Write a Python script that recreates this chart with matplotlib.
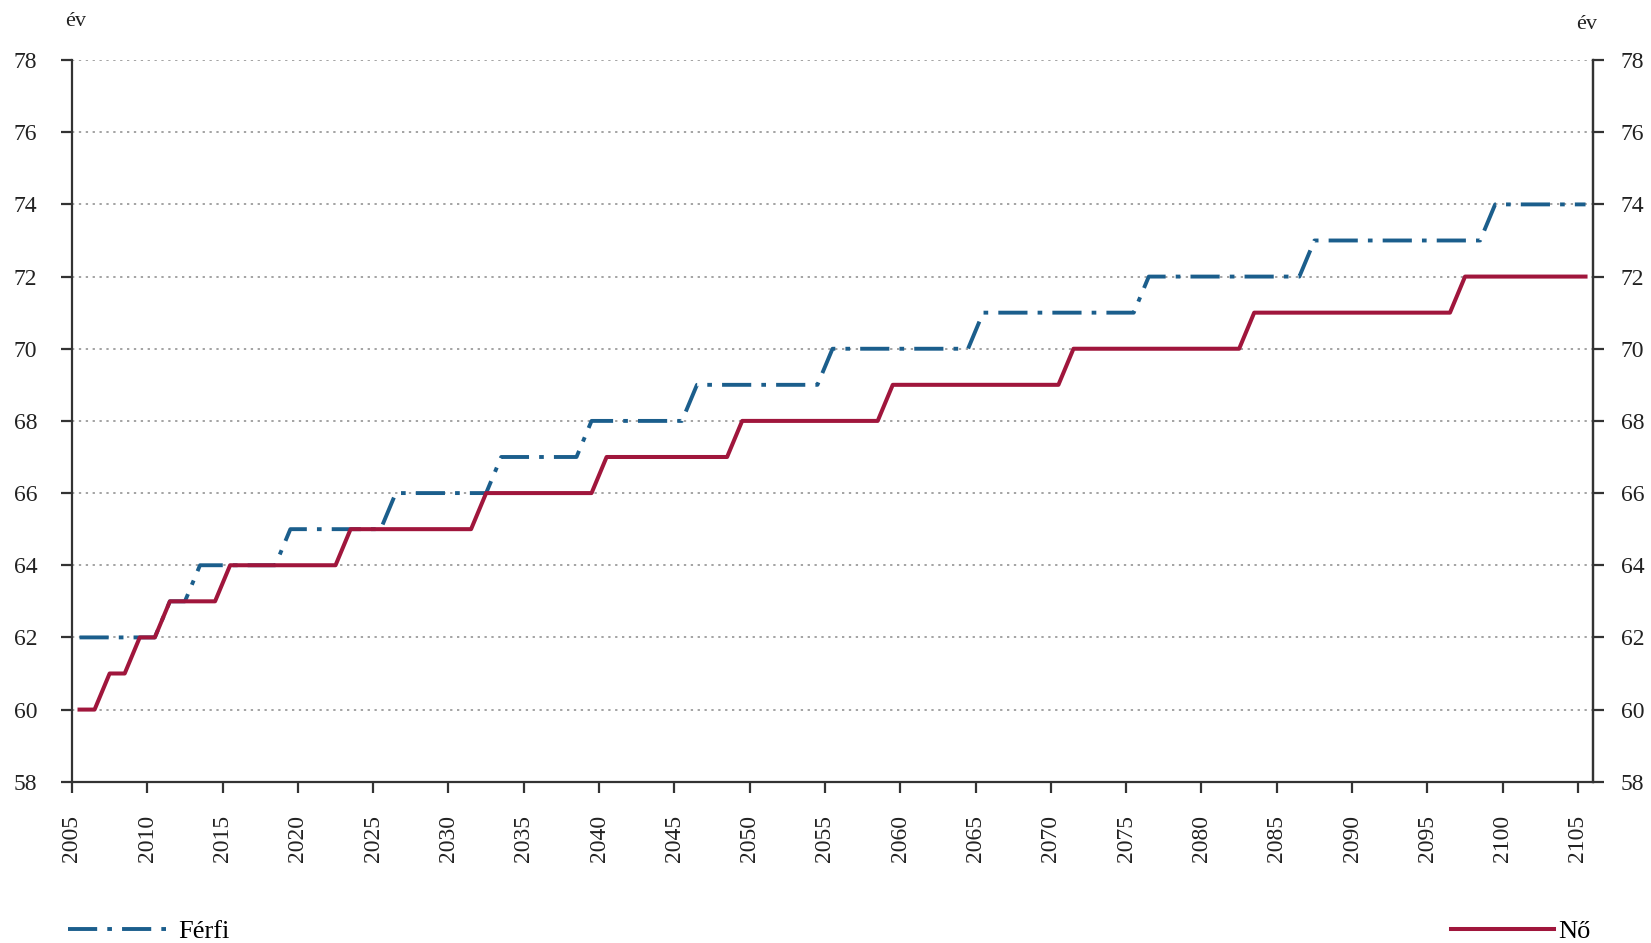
import numpy as np
import matplotlib
matplotlib.use("Agg")
import matplotlib.pyplot as plt
from matplotlib.lines import Line2D

plt.rcParams['font.family'] = ['Liberation Serif', 'DejaVu Serif']

# Years 2005..2105
years = list(range(2005, 2106))

# Retirement age, men (Férfi)
ferfi = [62, 62, 62, 62, 62, 62, 63, 63, 64, 64,   # 2005-2014
         64, 64, 64, 64, 65, 65, 65, 65, 65, 65,   # 2015-2024
         65, 66, 66, 66, 66, 66, 66, 66, 67, 67,   # 2025-2034
         67, 67, 67, 67, 68, 68, 68, 68, 68, 68,   # 2035-2044
         68, 69, 69, 69, 69, 69, 69, 69, 69, 69,   # 2045-2054
         70, 70, 70, 70, 70, 70, 70, 70, 70, 70,   # 2055-2064
         71, 71, 71, 71, 71, 71, 71, 71, 71, 71,   # 2065-2074
         71, 72, 72, 72, 72, 72, 72, 72, 72, 72,   # 2075-2084
         72, 72, 73, 73, 73, 73, 73, 73, 73, 73,   # 2085-2094
         73, 73, 73, 73, 74, 74, 74, 74, 74, 74,   # 2095-2104
         74]                                       # 2105

# Retirement age, women (Nő)
no = [60, 60, 61, 61, 62, 62, 63, 63, 63, 63,      # 2005-2014
      64, 64, 64, 64, 64, 64, 64, 64, 65, 65,      # 2015-2024
      65, 65, 65, 65, 65, 65, 65, 66, 66, 66,      # 2025-2034
      66, 66, 66, 66, 66, 67, 67, 67, 67, 67,      # 2035-2044
      67, 67, 67, 67, 68, 68, 68, 68, 68, 68,      # 2045-2054
      68, 68, 68, 68, 69, 69, 69, 69, 69, 69,      # 2055-2064
      69, 69, 69, 69, 69, 69, 70, 70, 70, 70,      # 2065-2074
      70, 70, 70, 70, 70, 70, 70, 70, 71, 71,      # 2075-2084
      71, 71, 71, 71, 71, 71, 71, 71, 71, 71,      # 2085-2094
      71, 71, 72, 72, 72, 72, 72, 72, 72, 72,      # 2095-2104
      72]                                          # 2105

xtick_years = list(range(2005, 2106, 5))
yticks = list(range(58, 79, 2))

blue = '#1B5E8C'
red = '#A0163C'
txt = '#222222'
fs = 17

fig = plt.figure(figsize=(16.51, 9.43), dpi=100)
ax = fig.add_axes([0.0436, 0.171, 0.9213, 0.7653])

# points sit in the middle of each year's category
x = np.array(years) + 0.5
dash_dot = (0, (7.5, 2.6, 1.2, 2.6))
ax.plot(x, ferfi, color=blue, lw=2.8, linestyle=dash_dot, label='Férfi', zorder=3)
ax.plot(x, no, color=red, lw=2.9, label='Nő', zorder=4)

ax.set_xlim(2005, 2106)
ax.set_ylim(58, 78)
ax.set_xticks(xtick_years)
ax.set_xticklabels([str(y) for y in xtick_years], rotation=90, fontsize=fs, color=txt)
ax.set_yticks(yticks)
ax.set_yticklabels([str(v) for v in yticks], fontsize=fs, color=txt)

ax.yaxis.grid(True, linestyle=(0, (1.5, 3)), color='#8a8a8a', lw=1.1)
ax.set_axisbelow(True)

ax.spines['top'].set_visible(False)
for s in ['left', 'bottom', 'right']:
    ax.spines[s].set_linewidth(1.6)
    ax.spines[s].set_color('#333333')

ax.tick_params(axis='x', direction='out', length=8, width=1.6, color='#333333', pad=16)
ax.tick_params(axis='y', direction='out', length=8, width=1.6, color='#333333', pad=17)

# right-hand axis with the same scale
ax2 = ax.twinx()
ax2.set_ylim(58, 78)
ax2.set_yticks(yticks)
ax2.set_yticklabels([str(v) for v in yticks], fontsize=fs, color=txt)
ax2.tick_params(axis='y', direction='out', length=8, width=1.6, color='#333333', pad=12)
for s in ['top', 'left', 'bottom']:
    ax2.spines[s].set_visible(False)
ax2.spines['right'].set_linewidth(1.6)
ax2.spines['right'].set_color('#333333')

fig.text(0.0394, 0.977, 'év', fontsize=16, color=txt, ha='left', va='center')
fig.text(0.9673, 0.974, 'év', fontsize=16, color=txt, ha='right', va='center')

# legends: Férfi bottom left, Nő bottom right
h_f = Line2D([], [], color=blue, lw=2.8, linestyle=dash_dot)
h_n = Line2D([], [], color=red, lw=2.9)
fig.legend([h_f], ['Férfi'], loc='center left', bbox_to_anchor=(0.041, 0.012),
           frameon=False, fontsize=19, handlelength=4.0, handletextpad=0.2,
           borderpad=0, borderaxespad=0)
fig.legend([h_n], ['Nő'], loc='center right', bbox_to_anchor=(0.9635, 0.012),
           frameon=False, fontsize=19, handlelength=3.9, handletextpad=0.15,
           borderpad=0, borderaxespad=0)

fig.savefig('out.png', dpi=100)
